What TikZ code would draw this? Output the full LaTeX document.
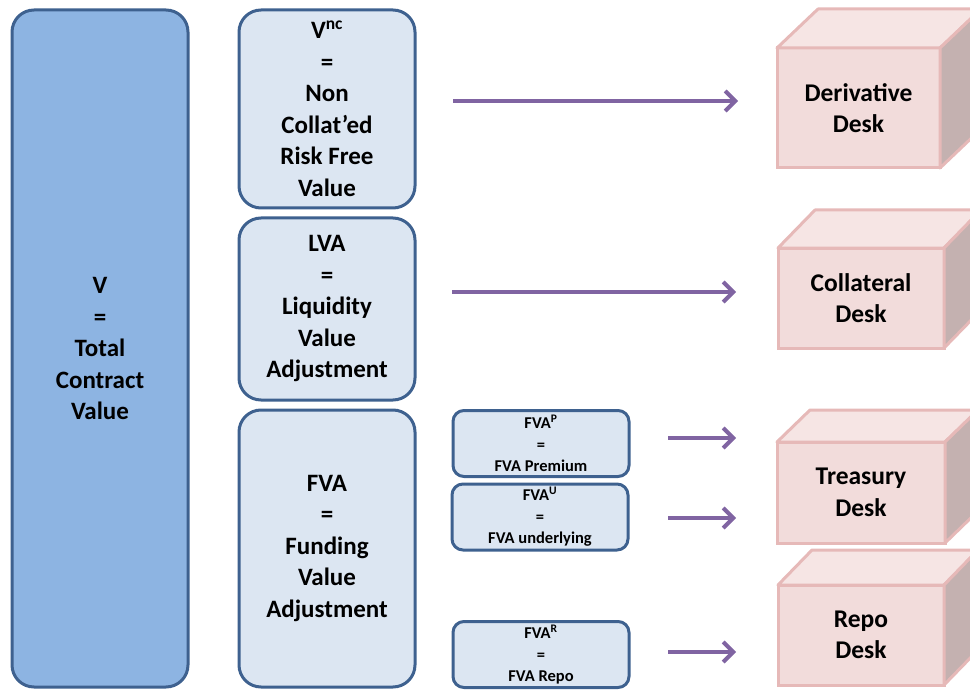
\documentclass[tikz,border=0pt]{standalone}
\usepackage{fontspec}
\setmainfont{Carlito}
\usetikzlibrary{arrows.meta}
\definecolor{boxblue}{HTML}{8DB4E2}
\definecolor{paleblue}{HTML}{DCE6F2}
\definecolor{edgeblue}{HTML}{3E618F}
\definecolor{deskfront}{HTML}{F2DCDB}
\definecolor{desktop}{HTML}{F6E5E4}
\definecolor{deskside}{HTML}{C4B1B0}
\definecolor{deskedge}{HTML}{E6B9B8}
\definecolor{flowpurple}{HTML}{8064A2}

\begin{document}
\begin{tikzpicture}[x=1pt, y=-1pt,
        bigbox/.style={rectangle, draw=edgeblue, line width=3pt, rounded corners=22pt, outer sep=0pt, inner sep=0pt, align=center, font=\fontsize{25}{31.5}\selectfont\bfseries},
        smallbox/.style={rectangle, draw=edgeblue, line width=3pt, rounded corners=11pt, outer sep=0pt, inner sep=0pt, fill=paleblue, minimum width=176pt, minimum height=66pt, align=center, font=\fontsize{16.5}{21.5}\selectfont\bfseries},
        deskface/.style={rectangle, draw=deskedge, line width=3pt, fill=deskfront, outer sep=0pt, inner sep=0pt, align=center, font=\fontsize{25.5}{31.5}\selectfont\bfseries},
        deskline/.style={draw=deskedge, line width=3pt, line join=round},
        flow/.style={draw=flowpurple, line width=4pt, -{Straight Barb[length=10pt, width=20pt]}}
    ]
    \useasboundingbox (0,0) rectangle (970,690);
    \clip (0,0) rectangle (970,690);

    % value breakdown
    \node[bigbox, fill=boxblue, minimum width=176pt, minimum height=677pt] (total) at (100,348.5) {V\\=\\Total\\Contract\\Value};
    \node[bigbox, fill=paleblue, minimum width=176pt, minimum height=198pt] (vnc) at (327,109) {V\textsuperscript{nc}\\=\\Non\\Collat’ed\\Risk Free\\Value};
    \node[bigbox, fill=paleblue, minimum width=176pt, minimum height=182pt] (lva) at (327,309) {LVA\\=\\Liquidity\\Value\\Adjustment};
    \node[bigbox, fill=paleblue, minimum width=176pt, minimum height=277pt] (fva) at (327,548.5) {FVA\\=\\Funding\\Value\\Adjustment};

    % FVA parts
    \node[smallbox] (fvap) at (541,443.5) {FVA\textsuperscript{P}\\=\\FVA Premium};
    \node[smallbox] (fvau) at (540,517) {FVA\textsuperscript{U}\\=\\FVA underlying};
    \node[smallbox] (fvar) at (541,654.5) {FVA\textsuperscript{R}\\=\\FVA Repo};

    % desks
    \node[deskface, minimum width=163pt, minimum height=120pt] (derivdesk) at (858.5,108) {Derivative\\Desk};
    \draw[deskline, fill=desktop] (derivdesk.north west) -- ++(41,-39) -- ++(163,0) -- (derivdesk.north east) -- cycle;
    \draw[deskline, fill=deskside] (derivdesk.north east) -- ++(41,-39) -- ++(0,120) -- (derivdesk.south east) -- cycle;

    \node[deskface, minimum width=166pt, minimum height=100pt] (colldesk) at (861,298) {Collateral\\Desk};
    \draw[deskline, fill=desktop] (colldesk.north west) -- ++(37,-38) -- ++(166,0) -- (colldesk.north east) -- cycle;
    \draw[deskline, fill=deskside] (colldesk.north east) -- ++(37,-38) -- ++(0,100) -- (colldesk.south east) -- cycle;

    \node[deskface, minimum width=168pt, minimum height=101pt] (treasdesk) at (861,492.5) {Treasury\\Desk};
    \draw[deskline, fill=desktop] (treasdesk.north west) -- ++(33,-32) -- ++(168,0) -- (treasdesk.north east) -- cycle;
    \draw[deskline, fill=deskside] (treasdesk.north east) -- ++(33,-32) -- ++(0,101) -- (treasdesk.south east) -- cycle;

    \node[deskface, minimum width=166pt, minimum height=100pt] (repodesk) at (861,635) {Repo\\Desk};
    \draw[deskline, fill=desktop] (repodesk.north west) -- ++(34,-35) -- ++(166,0) -- (repodesk.north east) -- cycle;
    \draw[deskline, fill=deskside] (repodesk.north east) -- ++(34,-35) -- ++(0,100) -- (repodesk.south east) -- cycle;

    % flows to desks
    \coordinate (ncfrom) at (453,101);
    \coordinate (ncto) at (738,101);
    \coordinate (lvafrom) at (452,292);
    \coordinate (lvato) at (736,292);
    \coordinate (pfrom) at (668,438);
    \coordinate (pto) at (736,438);
    \coordinate (ufrom) at (668,518);
    \coordinate (uto) at (736,518);
    \coordinate (rfrom) at (668,652);
    \coordinate (rto) at (736,652);
    \draw[flow] (ncfrom) -- (ncto);
    \draw[flow] (lvafrom) -- (lvato);
    \draw[flow] (pfrom) -- (pto);
    \draw[flow] (ufrom) -- (uto);
    \draw[flow] (rfrom) -- (rto);
\end{tikzpicture}
\end{document}
